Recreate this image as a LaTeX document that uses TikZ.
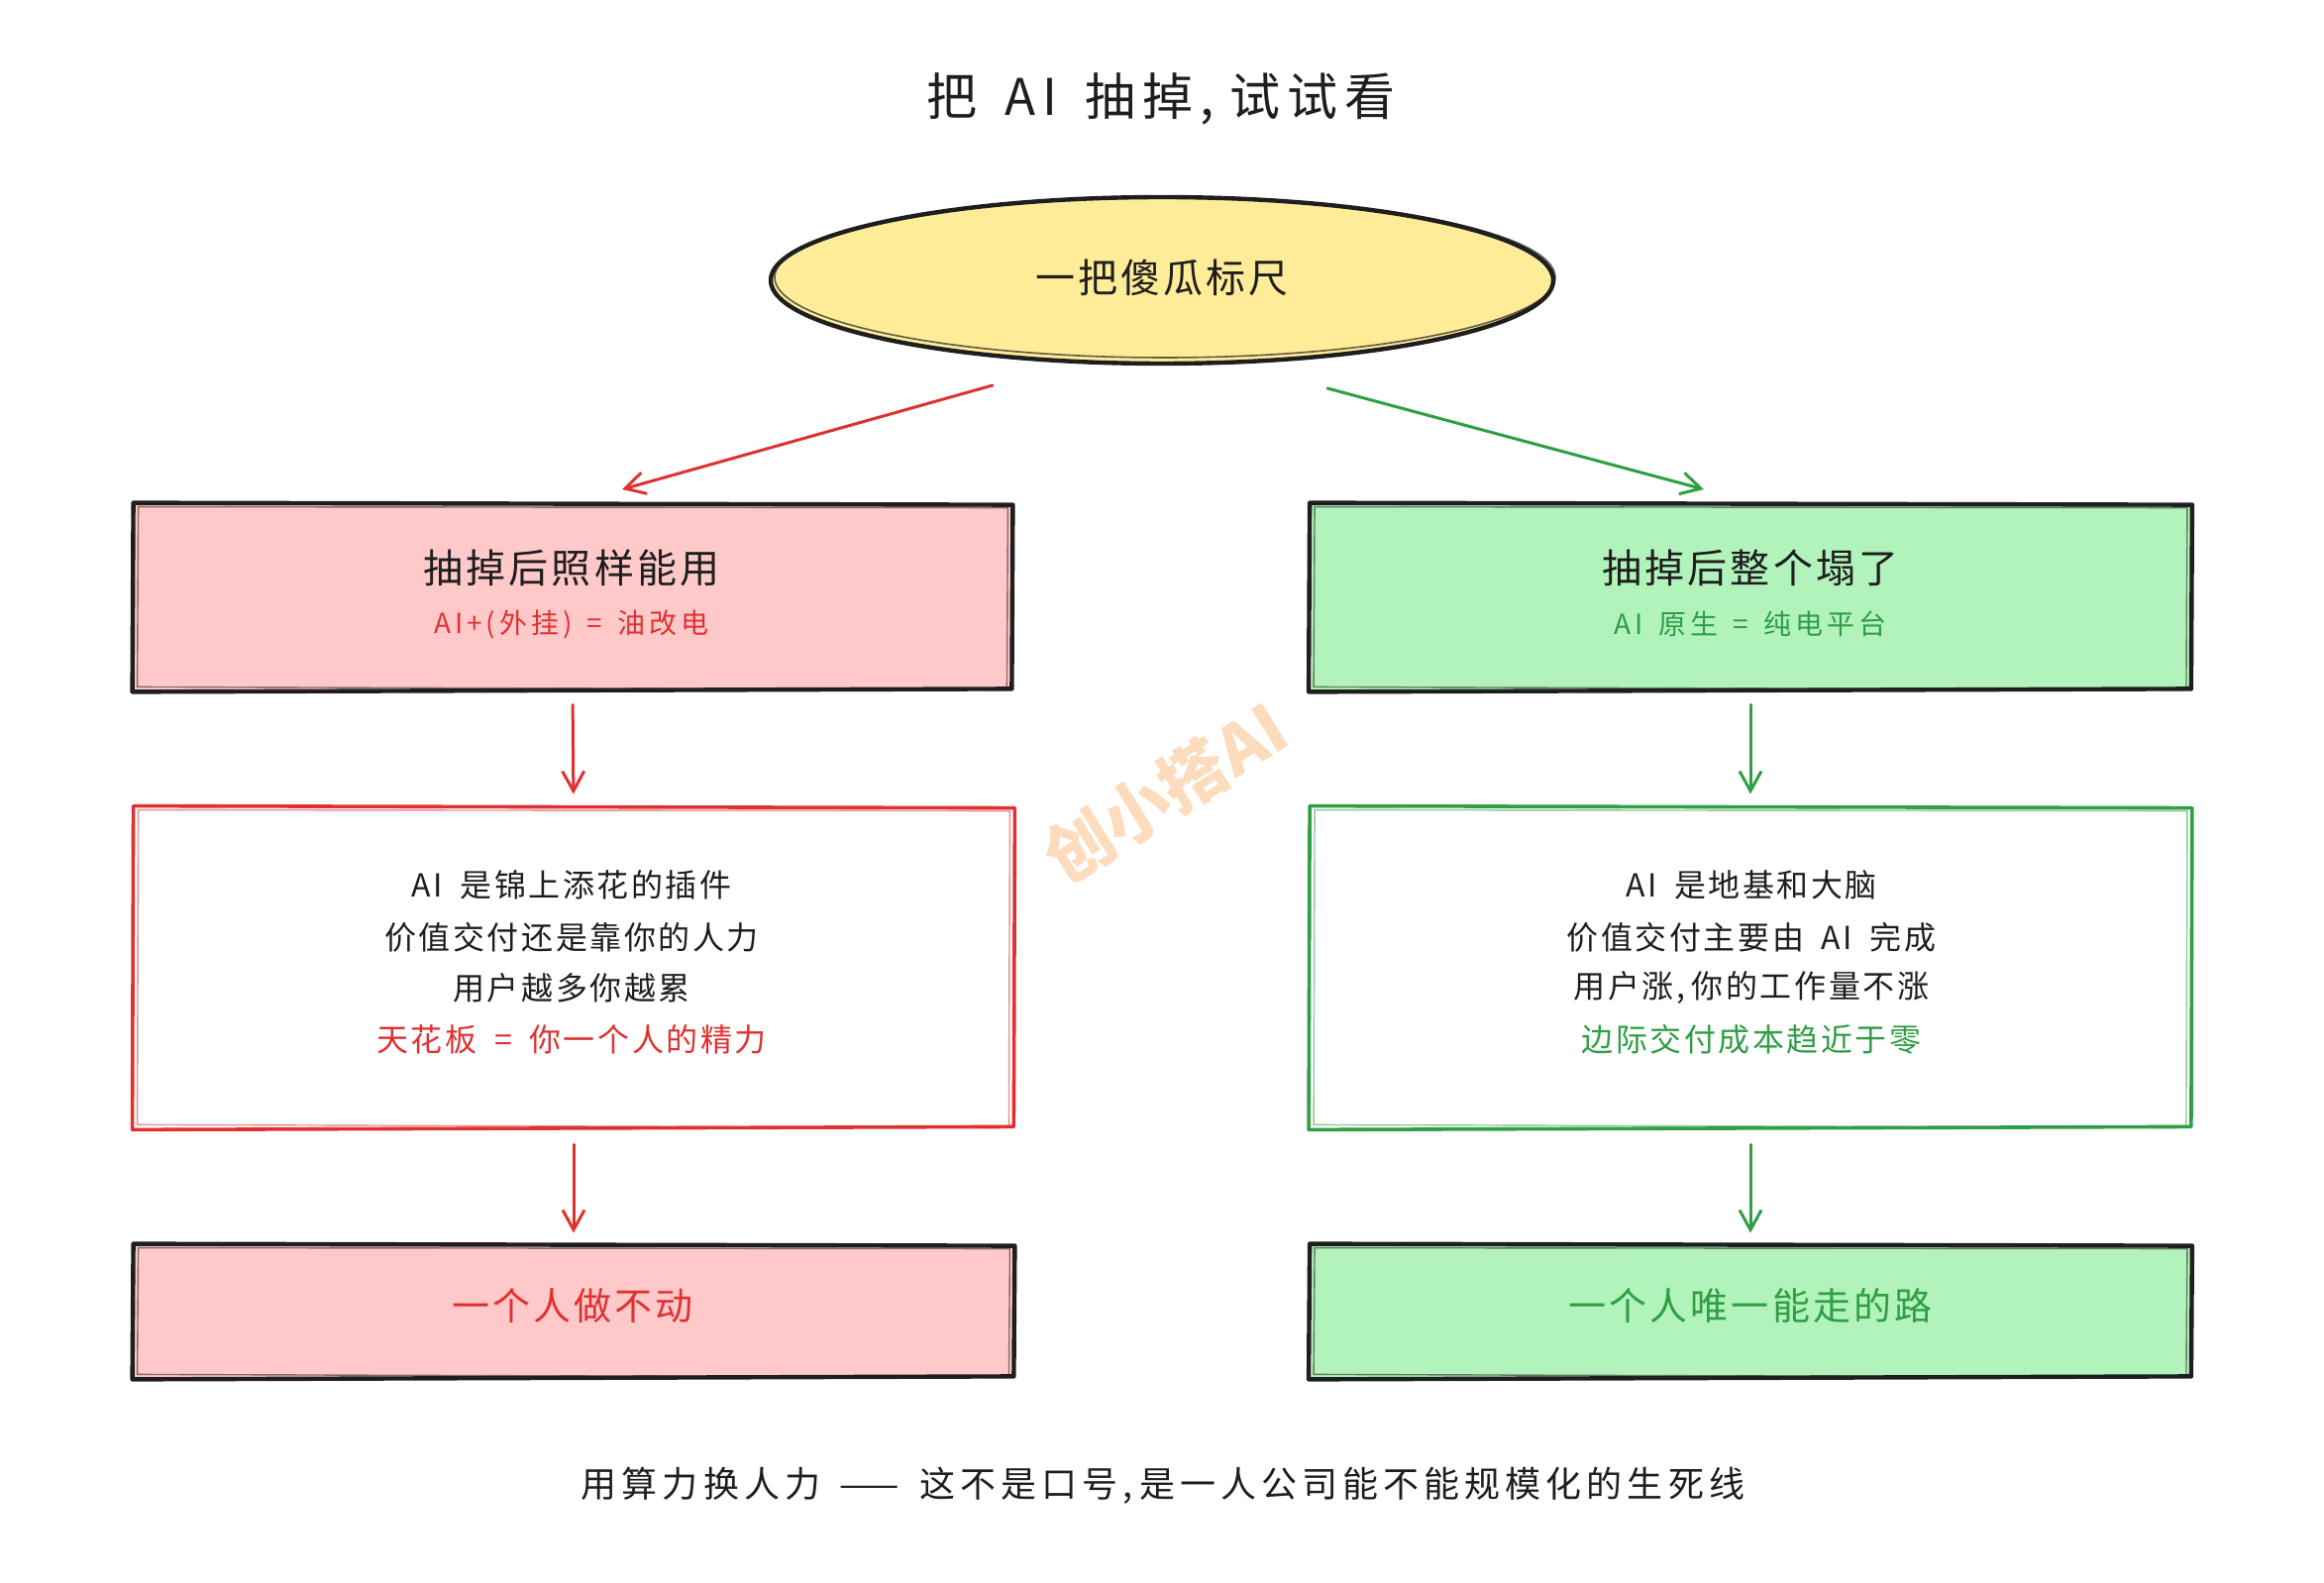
\documentclass[tikz,border=0pt]{standalone}
\usepackage{fontspec}
\setmainfont{Noto Sans CJK SC}
\newfontfamily\cjk[LetterSpace=8]{Noto Sans CJK SC}
\newfontfamily\cjkw[LetterSpace=14]{Noto Sans CJK SC}
\usetikzlibrary{arrows.meta,shapes.geometric}
\definecolor{pinkfill}{HTML}{FFC9C9}
\definecolor{greenfill}{HTML}{B2F2BB}
\definecolor{yellowfill}{HTML}{FFEC99}
\definecolor{redc}{HTML}{E03131}
\definecolor{greenc}{HTML}{2F9E44}
\definecolor{inkc}{HTML}{1E1E1E}
\definecolor{wmc}{RGB}{253,220,190}
\newcommand\fsz[1]{\fontsize{#1}{#1}\selectfont}
\newcommand\gap{\hspace{0.55em}}
\newcommand\sketchrect[3]{%
  \draw[#2, line width=#3, line join=round]
    ([shift={(-1,-1)}]#1.north west) -- ([shift={(2,1)}]#1.north east) --
    ([shift={(1,-2)}]#1.south east) -- ([shift={(-2,1)}]#1.south west) -- cycle;
  \draw[#2, line width=0.7pt, opacity=.55]
    ([shift={(4,3)}]#1.north west) -- ([shift={(-3,4)}]#1.north east) --
    ([shift={(-4,-1)}]#1.south east) -- ([shift={(3,-4)}]#1.south west) -- cycle;
}
\tikzset{
  box/.style={rectangle, inner sep=0pt, draw=none},
  txt/.style={inner sep=0pt, font=\cjk, text=inkc},
  redarrow/.style={redc, line width=1.5pt, line cap=round, -{Straight Barb[length=10pt,width=11pt,line width=1.5pt]}},
  greenarrow/.style={greenc, line width=1.5pt, line cap=round, -{Straight Barb[length=10pt,width=11pt,line width=1.5pt]}},
}
\begin{document}
\begin{tikzpicture}[x=0.5pt,y=-0.5pt]
\useasboundingbox[fill=white] (0,0) rectangle (2346,1598);

% title
\node[txt, font=\cjkw\fsz{25.5pt}] (title) at (1172,100) {把\gap AI\gap 抽掉,\hspace{0.3em}试试看};

% watermark
\node[inner sep=0pt, text=wmc, font=\bfseries\fsz{34pt}, rotate=32] (wm) at (1176,800) {创小搭AI};

% ellipse
\node[ellipse, inner sep=0pt, minimum width=395pt, minimum height=84pt, fill=yellowfill, draw=inkc, line width=2.2pt] (e) at (1173,283) {};
\draw[inkc, line width=0.8pt, opacity=.7] ([shift={(3,-3)}]e.center) ellipse [x radius=197pt, y radius=40.5pt];
\node[txt, font=\cjk\fsz{20pt}] (et) at (1173,280) {一把傻瓜标尺};

% boxes row 1
\node[box, fill=pinkfill, minimum width=442pt, minimum height=94pt] (l1) at (578,603) {};
\node[box, fill=greenfill, minimum width=443.5pt, minimum height=94pt] (r1) at (1767,603) {};
\sketchrect{l1}{inkc}{2.2pt}
\sketchrect{r1}{inkc}{2.2pt}
\node[txt, font=\cjk\fsz{20pt}] (l1t) at (577,573) {抽掉后照样能用};
\node[txt, font=\cjkw\fsz{14pt}, text=redc] (l1s) at (577,630) {AI+(外挂)\gap =\gap 油改电};
\node[txt, font=\cjk\fsz{20pt}] (r1t) at (1767,573) {抽掉后整个塌了};
\node[txt, font=\cjkw\fsz{14pt}, text=greenc] (r1s) at (1767,630) {AI\gap 原生\gap =\gap 纯电平台};

% boxes row 2
\node[box, fill=white, minimum width=443pt, minimum height=162pt] (l2) at (579,977) {};
\node[box, fill=white, minimum width=443.5pt, minimum height=162pt] (r2) at (1767,977) {};
\sketchrect{l2}{redc}{1.8pt}
\sketchrect{r2}{greenc}{1.8pt}
\node[txt, font=\cjk\fsz{16pt}] (l2a) at (577,893) {AI\gap 是锦上添花的插件};
\node[txt, font=\cjk\fsz{16pt}] (l2b) at (577,946) {价值交付还是靠你的人力};
\node[txt, font=\cjk\fsz{16pt}] (l2c) at (577,997) {用户越多你越累};
\node[txt, font=\cjk\fsz{16pt}, text=redc] (l2d) at (577,1049) {天花板\gap =\gap 你一个人的精力};
\node[txt, font=\cjk\fsz{16pt}] (r2a) at (1768,893) {AI\gap 是地基和大脑};
\node[txt, font=\cjk\fsz{16pt}] (r2b) at (1768,946) {价值交付主要由\gap AI\gap 完成};
\node[txt, font=\cjk\fsz{16pt}] (r2c) at (1768,997) {用户涨,\hspace{0.2em}你的工作量不涨};
\node[txt, font=\cjk\fsz{16pt}, text=greenc] (r2d) at (1768,1049) {边际交付成本趋近于零};

% boxes row 3
\node[box, fill=pinkfill, minimum width=443pt, minimum height=67pt] (l3) at (579,1324) {};
\node[box, fill=greenfill, minimum width=443.5pt, minimum height=67pt] (r3) at (1767,1324) {};
\sketchrect{l3}{inkc}{2.2pt}
\sketchrect{r3}{inkc}{2.2pt}
\node[txt, font=\cjk\fsz{19pt}, text=redc] (l3t) at (578,1318) {一个人做不动};
\node[txt, font=\cjk\fsz{19pt}, text=greenc] (r3t) at (1767,1318) {一个人唯一能走的路};

% bottom line
\node[txt, font=\cjkw\fsz{18pt}] (foot) at (1174,1500) {用算力换人力\gap ——\gap 这不是口号,\hspace{0.2em}是一人公司能不能规模化的生死线};

% arrows
\coordinate (la0) at (1002,389);
\coordinate (la1) at (628,494);
\coordinate (ra0) at (1340,392);
\coordinate (ra1) at (1720,494);
\draw[redarrow] (la0) -- (la1);
\draw[greenarrow] (ra0) -- (ra1);
\draw[redarrow, shorten <=7pt, shorten >=6.5pt] (l1.south) -- (l2.north);
\draw[redarrow, shorten <=8pt, shorten >=6pt] (l2.south) -- (l3.north);
\draw[greenarrow, shorten <=7pt, shorten >=6.5pt] (r1.south) -- (r2.north);
\draw[greenarrow, shorten <=8pt, shorten >=6pt] (r2.south) -- (r3.north);
\end{tikzpicture}
\end{document}
